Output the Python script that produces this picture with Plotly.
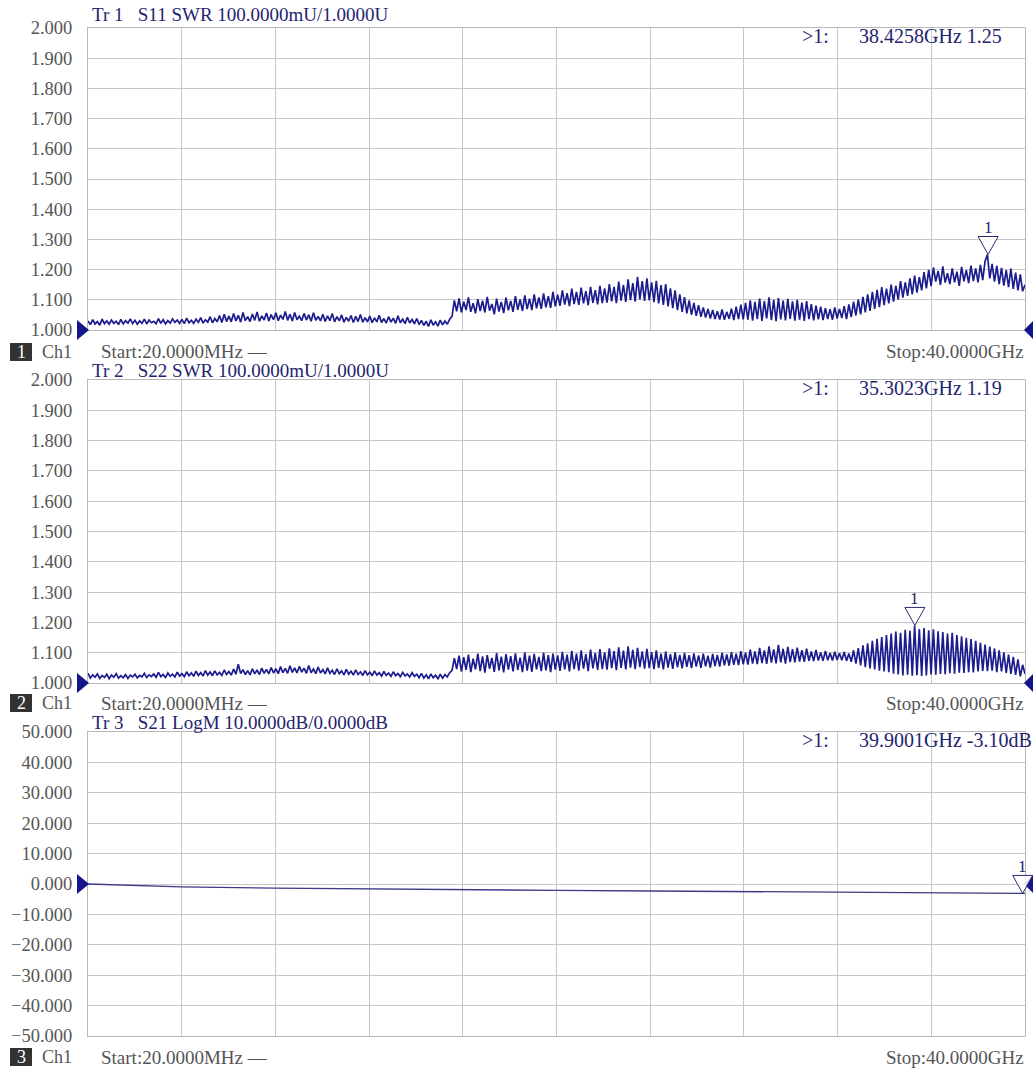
import numpy as np
import plotly.graph_objects as go

W, H = 1033, 1068

# ---------------- data ----------------
START_GHZ = 0.02
STOP_GHZ = 40.0
N_POINTS = 400

s11_swr = [
    1.030, 1.018, 1.034, 1.020, 1.028, 1.016, 1.036, 1.021, 1.030, 1.019, 1.033, 1.022, 1.029, 1.018, 1.035, 1.020, 1.031, 1.023, 1.037, 1.021,
    1.032, 1.019, 1.030, 1.022, 1.036, 1.020, 1.033, 1.024, 1.029, 1.021, 1.038, 1.022, 1.034, 1.020, 1.031, 1.023, 1.037, 1.025, 1.033, 1.022,
    1.035, 1.021, 1.039, 1.024, 1.032, 1.022, 1.036, 1.025, 1.041, 1.023, 1.034, 1.026, 1.044, 1.024, 1.038, 1.027, 1.048, 1.025, 1.052, 1.028,
    1.046, 1.027, 1.055, 1.030, 1.049, 1.026, 1.058, 1.031, 1.044, 1.028, 1.053, 1.032, 1.060, 1.029, 1.047, 1.033, 1.056, 1.030, 1.051, 1.034,
    1.057, 1.031, 1.049, 1.035, 1.061, 1.032, 1.052, 1.030, 1.058, 1.034, 1.046, 1.031, 1.055, 1.033, 1.050, 1.029, 1.057, 1.032, 1.045, 1.030,
    1.052, 1.028, 1.047, 1.031, 1.055, 1.027, 1.044, 1.030, 1.050, 1.026, 1.042, 1.029, 1.048, 1.025, 1.045, 1.028, 1.051, 1.026, 1.041, 1.027,
    1.046, 1.024, 1.040, 1.027, 1.049, 1.025, 1.038, 1.023, 1.044, 1.026, 1.039, 1.022, 1.047, 1.024, 1.036, 1.021, 1.042, 1.023, 1.035, 1.020,
    1.038, 1.018, 1.032, 1.015, 1.029, 1.012, 1.034, 1.016, 1.027, 1.013, 1.033, 1.017, 1.030, 1.019, 1.036, 1.045, 1.098, 1.062, 1.105, 1.058,
    1.094, 1.066, 1.108, 1.060, 1.089, 1.055, 1.102, 1.063, 1.097, 1.058, 1.110, 1.064, 1.086, 1.052, 1.104, 1.061, 1.093, 1.056, 1.107, 1.065,
    1.096, 1.060, 1.112, 1.067, 1.101, 1.063, 1.115, 1.069, 1.104, 1.066, 1.118, 1.072, 1.108, 1.070, 1.121, 1.075, 1.112, 1.073, 1.126, 1.078,
    1.117, 1.080, 1.131, 1.084, 1.122, 1.079, 1.137, 1.086, 1.126, 1.083, 1.140, 1.088, 1.129, 1.082, 1.143, 1.090, 1.132, 1.085, 1.146, 1.089,
    1.138, 1.091, 1.152, 1.095, 1.143, 1.089, 1.160, 1.097, 1.149, 1.093, 1.168, 1.099, 1.155, 1.094, 1.176, 1.101, 1.162, 1.096, 1.171, 1.098,
    1.158, 1.092, 1.163, 1.088, 1.149, 1.083, 1.152, 1.078, 1.138, 1.072, 1.131, 1.066, 1.118, 1.060, 1.109, 1.055, 1.098, 1.050, 1.090, 1.047,
    1.082, 1.044, 1.075, 1.041, 1.070, 1.038, 1.066, 1.036, 1.062, 1.035, 1.068, 1.034, 1.060, 1.037, 1.071, 1.033, 1.077, 1.036, 1.084, 1.035,
    1.090, 1.034, 1.098, 1.031, 1.093, 1.036, 1.104, 1.030, 1.096, 1.038, 1.108, 1.033, 1.100, 1.029, 1.106, 1.035, 1.097, 1.032, 1.103, 1.037,
    1.095, 1.031, 1.100, 1.034, 1.091, 1.030, 1.096, 1.036, 1.086, 1.032, 1.081, 1.035, 1.077, 1.033, 1.072, 1.036, 1.069, 1.034, 1.075, 1.038,
    1.070, 1.040, 1.079, 1.036, 1.085, 1.043, 1.094, 1.048, 1.101, 1.052, 1.110, 1.058, 1.118, 1.063, 1.126, 1.070, 1.133, 1.076, 1.142, 1.082,
    1.137, 1.088, 1.150, 1.094, 1.146, 1.101, 1.162, 1.107, 1.158, 1.113, 1.171, 1.118, 1.180, 1.124, 1.175, 1.131, 1.192, 1.138, 1.199, 1.145,
    1.207, 1.160, 1.196, 1.149, 1.211, 1.157, 1.188, 1.152, 1.204, 1.158, 1.193, 1.146, 1.209, 1.161, 1.198, 1.155, 1.213, 1.162, 1.204, 1.158,
    1.216, 1.165, 1.228, 1.250, 1.171, 1.219, 1.160, 1.212, 1.152, 1.206, 1.147, 1.198, 1.142, 1.203, 1.136, 1.190, 1.131, 1.184, 1.128, 1.150,
]

s22_swr = [
    1.032, 1.016, 1.027, 1.019, 1.030, 1.015, 1.025, 1.018, 1.029, 1.014, 1.026, 1.019, 1.031, 1.016, 1.024, 1.017, 1.028, 1.015, 1.026, 1.020,
    1.029, 1.017, 1.025, 1.020, 1.032, 1.018, 1.027, 1.021, 1.030, 1.019, 1.035, 1.021, 1.028, 1.018, 1.033, 1.022, 1.029, 1.020, 1.036, 1.023,
    1.031, 1.021, 1.037, 1.024, 1.033, 1.022, 1.039, 1.025, 1.034, 1.023, 1.041, 1.026, 1.036, 1.024, 1.040, 1.027, 1.035, 1.025, 1.043, 1.028,
    1.038, 1.026, 1.046, 1.029, 1.062, 1.031, 1.044, 1.028, 1.041, 1.027, 1.047, 1.030, 1.043, 1.028, 1.049, 1.032, 1.045, 1.030, 1.051, 1.033,
    1.047, 1.031, 1.054, 1.034, 1.048, 1.032, 1.057, 1.035, 1.050, 1.033, 1.055, 1.036, 1.049, 1.032, 1.058, 1.034, 1.046, 1.031, 1.053, 1.033,
    1.044, 1.030, 1.050, 1.032, 1.042, 1.028, 1.047, 1.031, 1.040, 1.027, 1.045, 1.029, 1.039, 1.026, 1.043, 1.028, 1.037, 1.025, 1.041, 1.027,
    1.036, 1.024, 1.040, 1.026, 1.034, 1.023, 1.038, 1.025, 1.033, 1.022, 1.037, 1.024, 1.031, 1.021, 1.035, 1.023, 1.030, 1.020, 1.034, 1.022,
    1.029, 1.018, 1.032, 1.016, 1.027, 1.014, 1.030, 1.017, 1.026, 1.013, 1.029, 1.016, 1.028, 1.020, 1.034, 1.041, 1.082, 1.046, 1.090, 1.038,
    1.085, 1.043, 1.094, 1.036, 1.080, 1.045, 1.097, 1.039, 1.088, 1.034, 1.092, 1.047, 1.083, 1.037, 1.099, 1.042, 1.087, 1.035, 1.095, 1.044,
    1.089, 1.038, 1.098, 1.043, 1.084, 1.036, 1.101, 1.041, 1.090, 1.037, 1.096, 1.045, 1.086, 1.039, 1.100, 1.042, 1.092, 1.036, 1.097, 1.044,
    1.091, 1.040, 1.103, 1.045, 1.094, 1.038, 1.106, 1.046, 1.097, 1.041, 1.108, 1.047, 1.095, 1.039, 1.110, 1.048, 1.099, 1.043, 1.112, 1.046,
    1.101, 1.044, 1.114, 1.049, 1.105, 1.042, 1.118, 1.050, 1.107, 1.045, 1.121, 1.051, 1.109, 1.046, 1.116, 1.052, 1.104, 1.047, 1.113, 1.049,
    1.102, 1.046, 1.108, 1.050, 1.097, 1.045, 1.104, 1.051, 1.095, 1.047, 1.101, 1.052, 1.093, 1.048, 1.099, 1.053, 1.092, 1.049, 1.098, 1.054,
    1.091, 1.050, 1.097, 1.055, 1.090, 1.051, 1.096, 1.056, 1.093, 1.054, 1.099, 1.058, 1.094, 1.057, 1.102, 1.060, 1.097, 1.059, 1.105, 1.062,
    1.100, 1.061, 1.110, 1.064, 1.104, 1.062, 1.116, 1.066, 1.108, 1.063, 1.121, 1.067, 1.111, 1.065, 1.126, 1.068, 1.113, 1.064, 1.119, 1.069,
    1.112, 1.068, 1.117, 1.071, 1.108, 1.070, 1.113, 1.073, 1.104, 1.072, 1.109, 1.074, 1.101, 1.073, 1.106, 1.075, 1.099, 1.074, 1.103, 1.076,
    1.098, 1.075, 1.102, 1.073, 1.097, 1.070, 1.108, 1.064, 1.115, 1.058, 1.124, 1.052, 1.131, 1.048, 1.139, 1.045, 1.146, 1.041, 1.152, 1.038,
    1.158, 1.036, 1.163, 1.031, 1.170, 1.028, 1.166, 1.025, 1.176, 1.027, 1.172, 1.024, 1.190, 1.026, 1.178, 1.023, 1.181, 1.025, 1.174, 1.028,
    1.177, 1.027, 1.171, 1.030, 1.168, 1.029, 1.163, 1.032, 1.166, 1.031, 1.158, 1.034, 1.154, 1.033, 1.149, 1.036, 1.145, 1.035, 1.139, 1.038,
    1.133, 1.040, 1.127, 1.039, 1.120, 1.041, 1.114, 1.036, 1.108, 1.038, 1.101, 1.033, 1.094, 1.030, 1.086, 1.027, 1.078, 1.022, 1.060, 1.030,
]

s21_freq_ghz = [0.02, 2.0, 4.0, 8.0, 12.0, 16.0, 20.0, 24.0, 28.0, 32.0, 36.0, 39.9001, 40.0]
s21_db = [0.00, -0.55, -0.95, -1.35, -1.65, -1.90, -2.10, -2.30, -2.50, -2.70, -2.90, -3.10, -3.11]

marker_freq_ghz = [38.4258, 35.3023, 39.9001]
marker_value = [1.25, 1.19, -3.10]
marker_readout = ["38.4258GHz 1.25", "35.3023GHz 1.19", "39.9001GHz -3.10dB"]
ref_level = [1.0, 1.0, 0.0]
header_text = [
    "Tr 1\u00a0\u00a0 S11 SWR 100.0000mU/1.0000U",
    "Tr 2\u00a0\u00a0 S22 SWR 100.0000mU/1.0000U",
    "Tr 3\u00a0\u00a0 S21 LogM 10.0000dB/0.0000dB",
]
start_text = "Start:20.0000MHz \u2014"
stop_text = "Stop:40.0000GHz"
y_range = [(1.0, 2.0), (1.0, 2.0), (-50.0, 50.0)]
y_dtick = [0.1, 0.1, 10.0]

sweep_ghz = np.linspace(START_GHZ, STOP_GHZ, N_POINTS)

# ---------------- layout / style ----------------
PLOT_X_PX = (88, 1025)
PANEL_Y_PX = [(28, 330), (380, 683), (732, 1036)]
HEADER_Y_PX = [15, 370, 722]
FOOTER_Y_PX = [352, 703, 1057]
READOUT_Y_PX = [36, 388, 740]

FONT = "Liberation Serif"
NAVY = "#1c1c8e"
TEXT_NAVY = "#24246e"
GRAY_TEXT = "#555555"
GRID = "#c6c6c6"


def px(x):
    return x / W


def py(y):
    return 1 - y / H


x_dom = [px(PLOT_X_PX[0]), px(PLOT_X_PX[1])]
y_doms = [[py(b), py(t)] for (t, b) in PANEL_Y_PX]


def to_paper(k, f, v):
    xp = x_dom[0] + (f - START_GHZ) / (STOP_GHZ - START_GHZ) * (x_dom[1] - x_dom[0])
    r0, r1 = y_range[k]
    yp = y_doms[k][0] + (v - r0) / (r1 - r0) * (y_doms[k][1] - y_doms[k][0])
    return xp, yp


fig = go.Figure()
series = [(sweep_ghz, s11_swr), (sweep_ghz, s22_swr), (s21_freq_ghz, s21_db)]
for k, (xs, ys) in enumerate(series):
    suffix = "" if k == 0 else str(k + 1)
    fig.add_trace(go.Scatter(
        x=xs, y=ys, mode="lines",
        line=dict(color=NAVY if k < 2 else "#3b3b86", width=1.7 if k < 2 else 1.3),
        xaxis="x" + suffix, yaxis="y" + suffix, showlegend=False, hoverinfo="skip",
    ))

layout = dict(
    width=W, height=H, margin=dict(l=0, r=0, t=0, b=0),
    paper_bgcolor="white", plot_bgcolor="white",
    font=dict(family=FONT, size=18, color=GRAY_TEXT),
    showlegend=False,
)
shapes = []
annotations = []
for k in range(3):
    suffix = "" if k == 0 else str(k + 1)
    layout["xaxis" + suffix] = dict(
        domain=x_dom, range=[START_GHZ, STOP_GHZ], anchor="y" + suffix,
        tick0=START_GHZ, dtick=(STOP_GHZ - START_GHZ) / 10,
        showticklabels=False, ticks="", showgrid=True, gridcolor=GRID, gridwidth=1,
        zeroline=False, showline=True, linecolor="#b8b8b8", linewidth=1, mirror=True,
        fixedrange=True,
    )
    layout["yaxis" + suffix] = dict(
        domain=y_doms[k], range=list(y_range[k]), anchor="x" + suffix,
        tick0=y_range[k][0], dtick=y_dtick[k], tickformat=".3f",
        showgrid=True, gridcolor=GRID, gridwidth=1, zeroline=False,
        showline=True, linecolor="#b8b8b8", linewidth=1, mirror=True,
        ticks="", ticklabelstandoff=11, automargin=False,
        tickfont=dict(family=FONT, size=18.5, color=GRAY_TEXT), fixedrange=True,
    )

    # reference-level triangles (left & right)
    lx, ly = to_paper(k, START_GHZ, ref_level[k])
    rx, ry = to_paper(k, STOP_GHZ, ref_level[k])
    shapes.append(dict(type="path", xref="paper", yref="paper", xsizemode="pixel", ysizemode="pixel",
                       xanchor=lx, yanchor=ly, path="M -11,10 L 1,0 L -11,-10 Z",
                       fillcolor="#15158a", line=dict(width=0), layer="above"))
    shapes.append(dict(type="path", xref="paper", yref="paper", xsizemode="pixel", ysizemode="pixel",
                       xanchor=rx, yanchor=ry, path="M 10,11 L -1,0 L 10,-11 Z",
                       fillcolor="#15158a", line=dict(width=0), layer="above"))

    # marker 1 triangle
    mx, my = to_paper(k, marker_freq_ghz[k], marker_value[k])
    shapes.append(dict(type="path", xref="paper", yref="paper", xsizemode="pixel", ysizemode="pixel",
                       xanchor=mx, yanchor=my, path="M -10,18 L 10,18 L 0,0 Z",
                       fillcolor="rgba(255,255,255,0.85)", line=dict(color="#2a2a70", width=1), layer="above"))
    annotations.append(dict(xref="paper", yref="paper", x=mx, y=my, yshift=27, text="1",
                            showarrow=False, xanchor="center", yanchor="middle",
                            font=dict(family=FONT, size=17, color=TEXT_NAVY)))

    # header
    annotations.append(dict(xref="paper", yref="paper", x=px(90), y=py(HEADER_Y_PX[k]), text=header_text[k],
                            showarrow=False, xanchor="left", yanchor="middle",
                            font=dict(family=FONT, size=19, color=TEXT_NAVY)))
    # marker readout
    annotations.append(dict(xref="paper", yref="paper", x=px(831), y=py(READOUT_Y_PX[k]), text=">1:",
                            showarrow=False, xanchor="right", yanchor="middle",
                            font=dict(family=FONT, size=20, color=TEXT_NAVY)))
    annotations.append(dict(xref="paper", yref="paper", x=px(857), y=py(READOUT_Y_PX[k]), text=marker_readout[k],
                            showarrow=False, xanchor="left", yanchor="middle",
                            font=dict(family=FONT, size=20, color=TEXT_NAVY)))
    # footer
    fy = FOOTER_Y_PX[k]
    shapes.append(dict(type="rect", xref="paper", yref="paper", x0=px(10), x1=px(32), y0=py(fy + 9), y1=py(fy - 9),
                       fillcolor="#333333", line=dict(width=0)))
    annotations.append(dict(xref="paper", yref="paper", x=px(21), y=py(fy), text=str(k + 1),
                            showarrow=False, xanchor="center", yanchor="middle",
                            font=dict(family=FONT, size=18, color="white")))
    annotations.append(dict(xref="paper", yref="paper", x=px(40), y=py(fy), text="Ch1",
                            showarrow=False, xanchor="left", yanchor="middle",
                            font=dict(family=FONT, size=18, color=GRAY_TEXT)))
    annotations.append(dict(xref="paper", yref="paper", x=px(99), y=py(fy), text=start_text,
                            showarrow=False, xanchor="left", yanchor="middle",
                            font=dict(family=FONT, size=19, color=GRAY_TEXT)))
    annotations.append(dict(xref="paper", yref="paper", x=px(1026), y=py(fy), text=stop_text,
                            showarrow=False, xanchor="right", yanchor="middle",
                            font=dict(family=FONT, size=19, color=GRAY_TEXT)))

layout["shapes"] = shapes
layout["annotations"] = annotations
fig.update_layout(**layout)

fig.write_html(
    "out.html",
    config={"displayModeBar": False},
    post_script="document.body.style.margin='0';document.body.style.overflow='hidden';",
)
